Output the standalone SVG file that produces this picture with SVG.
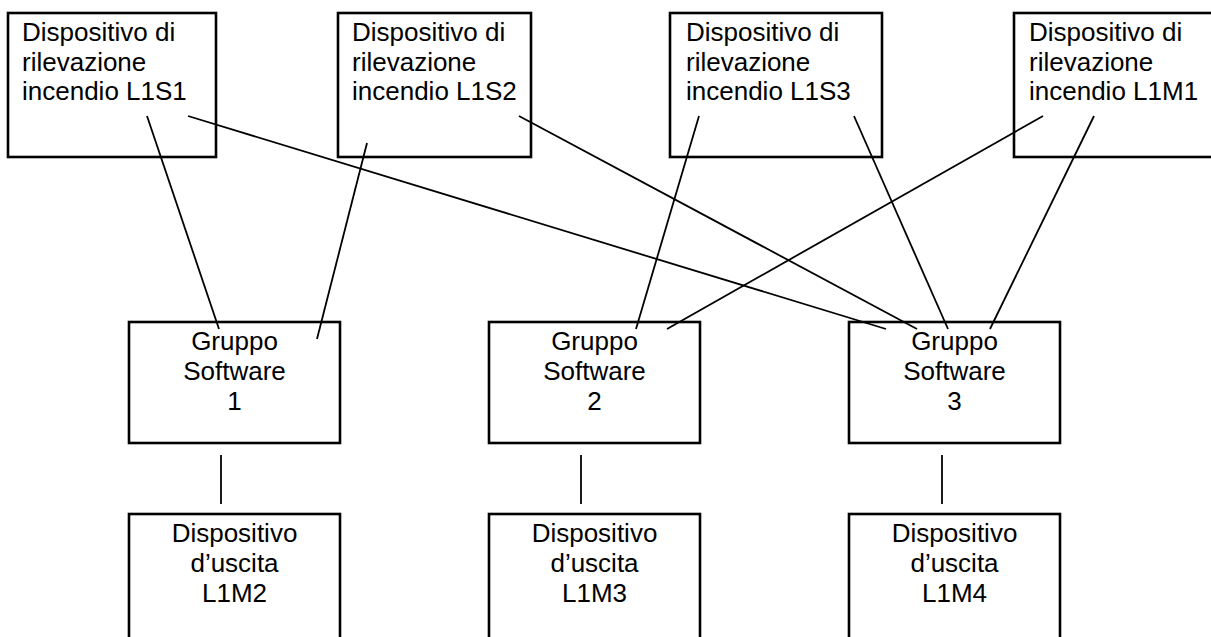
<svg xmlns="http://www.w3.org/2000/svg" width="1211" height="637" viewBox="0 0 1211 637">
<style>
rect{fill:#fff;stroke:#000;stroke-width:2.6}
text{font-family:"Liberation Sans",Arial,sans-serif;font-size:26px;fill:#000}
.c{text-anchor:middle}
#connectors line{stroke:#000;stroke-width:1.8}
</style>
<rect x="0" y="0" width="1211" height="637" style="stroke:none"/>
<g id="L1S1"><rect x="8" y="13" width="208" height="144"/><text x="22" y="41">Dispositivo di</text><text x="22" y="71">rilevazione</text><text x="22" y="100">incendio L1S1</text></g>
<g id="L1S2"><rect x="338" y="13" width="193" height="144"/><text x="352" y="41">Dispositivo di</text><text x="352" y="71">rilevazione</text><text x="352" y="100">incendio L1S2</text></g>
<g id="L1S3"><rect x="670" y="13" width="212" height="144"/><text x="686" y="41">Dispositivo di</text><text x="686" y="71">rilevazione</text><text x="686" y="100">incendio L1S3</text></g>
<g id="L1M1"><rect x="1014" y="13" width="210" height="144"/><text x="1029" y="41">Dispositivo di</text><text x="1029" y="71">rilevazione</text><text x="1029" y="100">incendio L1M1</text></g>
<g id="G1"><rect x="129" y="322" width="211" height="121"/><text class="c" x="234.5" y="350">Gruppo</text><text class="c" x="234.5" y="380">Software</text><text class="c" x="234.5" y="410">1</text></g>
<g id="G2"><rect x="489" y="322" width="211" height="121"/><text class="c" x="594.5" y="350">Gruppo</text><text class="c" x="594.5" y="380">Software</text><text class="c" x="594.5" y="410">2</text></g>
<g id="G3"><rect x="849" y="322" width="211" height="121"/><text class="c" x="954.5" y="350">Gruppo</text><text class="c" x="954.5" y="380">Software</text><text class="c" x="954.5" y="410">3</text></g>
<g id="L1M2"><rect x="129" y="514" width="211" height="140"/><text class="c" x="234.5" y="542">Dispositivo</text><text class="c" x="234.5" y="572">d’uscita</text><text class="c" x="234.5" y="602">L1M2</text></g>
<g id="L1M3"><rect x="489" y="514" width="211" height="140"/><text class="c" x="594.5" y="542">Dispositivo</text><text class="c" x="594.5" y="572">d’uscita</text><text class="c" x="594.5" y="602">L1M3</text></g>
<g id="L1M4"><rect x="849" y="514" width="211" height="140"/><text class="c" x="954.5" y="542">Dispositivo</text><text class="c" x="954.5" y="572">d’uscita</text><text class="c" x="954.5" y="602">L1M4</text></g>
<g id="connectors">
<line x1="147" y1="116" x2="219" y2="329"/>
<line x1="188" y1="116" x2="886" y2="329"/>
<line x1="367" y1="143" x2="317" y2="339"/>
<line x1="519" y1="116" x2="917" y2="329"/>
<line x1="699" y1="116" x2="636" y2="329"/>
<line x1="854" y1="116" x2="948" y2="329"/>
<line x1="1043" y1="116" x2="667" y2="329"/>
<line x1="1094" y1="116" x2="990" y2="329"/>
<line x1="221" y1="455" x2="221" y2="504"/>
<line x1="581" y1="455" x2="581" y2="504"/>
<line x1="942" y1="455" x2="942" y2="504"/>
</g>
</svg>
